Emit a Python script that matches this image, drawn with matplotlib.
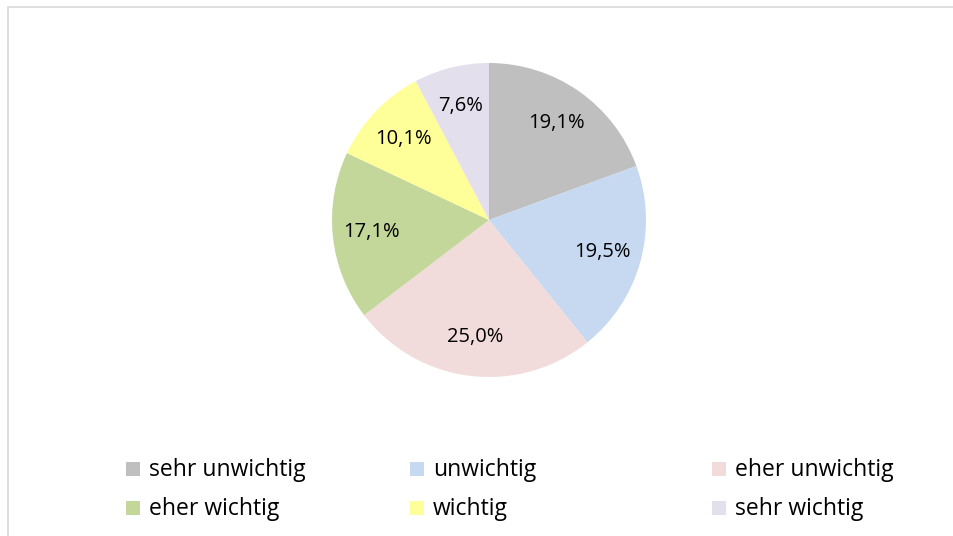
import numpy as np
import matplotlib.pyplot as plt
from matplotlib.patches import Rectangle

categories = ['sehr unwichtig', 'unwichtig', 'eher unwichtig',
              'eher wichtig', 'wichtig', 'sehr wichtig']
shares = [19.1, 19.5, 25.0, 17.1, 10.1, 7.6]
colors = ['#BFBFBF', '#C6D9F1', '#F2DCDB', '#C4D79B', '#FFFF99', '#E4DFEC']

plt.rcParams['font.family'] = ['Open Sans', 'DejaVu Sans']

W, H = 954, 536
fig = plt.figure(figsize=(W / 100, H / 100), dpi=100)

# grey chart frame (runs off the right/bottom edge like the screenshot)
fig.patches.append(Rectangle((8 / W, -0.1), 1.2, 1 - 7 / H + 0.1, transform=fig.transFigure,
                             fill=False, edgecolor='#D9D9D9', linewidth=1.2))

# pie: centre (489, 220), radius 157 px
cx, cy, r = 489, 220, 157
ax = fig.add_axes([(cx - r) / W, 1 - (cy + r) / H, 2 * r / W, 2 * r / H])
wedges, _ = ax.pie(shares, colors=colors, startangle=90, counterclock=False,
                   wedgeprops={'linewidth': 0})
ax.set_xlim(-1, 1)
ax.set_ylim(-1, 1)
ax.set_aspect('equal')

# data labels with the shown (unnormalised) values
for w, v in zip(wedges, shares):
    ang = np.deg2rad((w.theta1 + w.theta2) / 2)
    ax.text(0.75 * np.cos(ang), 0.75 * np.sin(ang), ('%.1f%%' % v).replace('.', ','),
            ha='center', va='center', fontsize=14.5)

# legend, 3 columns x 2 rows
col_x = [126, 410, 712]
row_y = [469, 508]
for i, (lab, col) in enumerate(zip(categories, colors)):
    x = col_x[i % 3]
    y = row_y[i // 3]
    fig.patches.append(Rectangle((x / W, 1 - (y + 7) / H), 14 / W, 14 / H,
                                 transform=fig.transFigure, facecolor=col, edgecolor='none'))
    fig.text((x + 23) / W, 1 - (y + 1) / H, lab, fontsize=16.5, va='center', ha='left')

fig.savefig('out.png', dpi=100)
